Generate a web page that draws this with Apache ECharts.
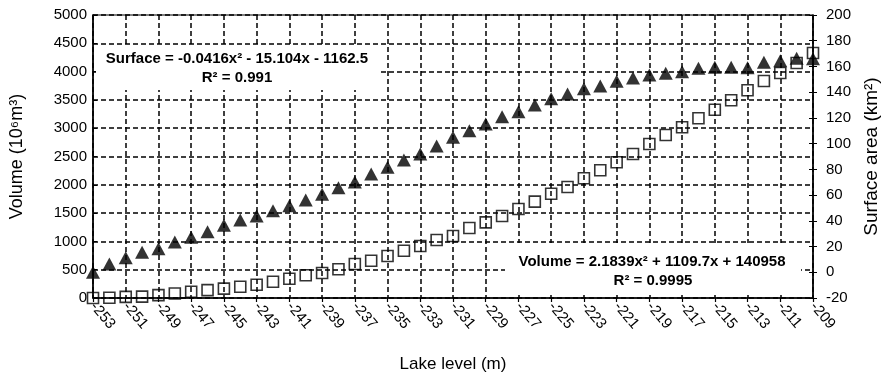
<!DOCTYPE html>
<html>
<head>
    <meta charset="UTF-8">
    <title>Lake level - volume - surface</title>
    <script src="https://cdn.jsdelivr.net/npm/echarts@6/dist/echarts.min.js"></script>
    <style>
        html, body { margin: 0; padding: 0; background: #fff; }
        #main { width: 894px; height: 379px; }
    </style>
</head>
<body>
<div id="main"></div>
<script type="text/javascript">
    // lake level (m), one point per metre
    var levels = [];
    for (var l = -253; l <= -209; l++) {
        levels.push(String(l));
    }
    // volume (10^6 m3), left axis
    var volume = [0, 5, 20, 25, 50, 80, 110, 140, 165, 200,
        235, 288, 341, 401, 442, 507, 601, 659, 742, 836,
        919, 1025, 1096, 1237, 1337, 1449, 1573, 1702, 1843, 1960,
        2115, 2256, 2398, 2545, 2721, 2880, 3016, 3175, 3327, 3493,
        3670, 3834, 3976, 4152, 4329];
    // surface area (km2), right axis
    var surface = [0, 6.4, 11.3, 15.5, 18.3, 23.5, 27.2, 31.5, 36.5, 40.6,
        43.7, 47.9, 51.8, 56.2, 60.6, 65.7, 70.2, 76.4, 81.6, 87.3,
        92, 98.2, 104.9, 110, 115.3, 120.9, 124.8, 130, 134.9, 138.6,
        142.7, 144.8, 148.5, 151, 153.4, 154.7, 155.9, 158.6, 159.4, 159.4,
        159, 163.2, 164.5, 166.3, 166];
    var surfaceFit = ['Surface = -0.0416x² - 15.104x - 1162.5', 'R² = 0.991'];
    var volumeFit = ['Volume = 2.1839x² + 1109.7x + 140958', 'R² = 0.9995'];

    var font = 'Liberation Sans, Arial, sans-serif';
    var dash = { color: '#000', width: 1.5, type: [5, 3] };
    var plain = function (v) { return String(v); };

    var myChart = echarts.init(document.getElementById('main'));
    var option = {
        animation: false,
        backgroundColor: '#fff',
        textStyle: { fontFamily: font, color: '#000' },
        grid: {
            left: 92, right: 81, top: 15, bottom: 81,
            show: true, borderColor: '#000', borderWidth: 1.2
        },
        xAxis: {
            type: 'category',
            data: levels,
            boundaryGap: false,
            name: 'Lake level (m)',
            nameLocation: 'middle',
            nameGap: 58,
            nameTextStyle: { fontSize: 17, color: '#000' },
            axisLine: { lineStyle: { color: '#000', width: 1.5 } },
            axisTick: { interval: 1, length: 4, lineStyle: { color: '#000', width: 1.2 } },
            axisLabel: { interval: 1, rotate: -50, margin: 6, fontSize: 15, color: '#000' },
            splitLine: { show: true, interval: 1, lineStyle: dash }
        },
        yAxis: [
            {
                type: 'value',
                min: 0, max: 5000, interval: 500,
                name: 'Volume (10⁶m³)',
                nameLocation: 'middle',
                nameRotate: 90,
                nameGap: 67,
                nameTextStyle: { fontSize: 18, color: '#000' },
                axisLine: { show: true, lineStyle: { color: '#000', width: 1.5 } },
                axisTick: { show: true, inside: true, length: 4, lineStyle: { color: '#000' } },
                axisLabel: { margin: 6, fontSize: 15, color: '#000', formatter: plain },
                splitLine: { show: true, lineStyle: dash }
            },
            {
                type: 'value',
                position: 'right',
                min: -20, max: 200, interval: 20,
                name: 'Surface area (km²)',
                nameLocation: 'middle',
                nameRotate: 90,
                nameGap: 49,
                nameTextStyle: { fontSize: 19, color: '#000' },
                axisLine: { show: true, lineStyle: { color: '#000', width: 1.5 } },
                axisTick: { show: true, length: 4, lineStyle: { color: '#000' } },
                axisLabel: { margin: 13, fontSize: 15, color: '#000', formatter: plain },
                splitLine: { show: false }
            },
            {
                // inner half of the crossing ticks on the right axis
                type: 'value',
                position: 'right',
                min: -20, max: 200, interval: 20,
                axisLine: { show: false },
                axisTick: { show: true, inside: true, length: 4, lineStyle: { color: '#000' } },
                axisLabel: { show: false },
                splitLine: { show: false }
            }
        ],
        series: [
            {
                name: 'Surface',
                type: 'scatter',
                yAxisIndex: 1,
                symbol: 'triangle',
                symbolSize: [14, 13],
                itemStyle: { color: '#000' },
                data: surface
            },
            {
                name: 'Volume',
                type: 'scatter',
                yAxisIndex: 0,
                symbol: 'rect',
                symbolSize: 11,
                itemStyle: { color: 'rgba(255,255,255,0)', borderColor: '#000', borderWidth: 1.6 },
                data: volume
            }
        ],
        graphic: [
            { type: 'rect', z: 100, shape: { x: 96, y: 47, width: 284, height: 43 }, style: { fill: '#fff' } },
            { type: 'text', z: 101, x: 237, y: 51, style: { text: surfaceFit[0], font: 'bold 15px ' + font, fill: '#000', align: 'center' } },
            { type: 'text', z: 101, x: 237, y: 70, style: { text: surfaceFit[1], font: 'bold 15px ' + font, fill: '#000', align: 'center' } },
            { type: 'rect', z: 100, shape: { x: 505, y: 243, width: 296, height: 49 }, style: { fill: '#fff' } },
            { type: 'text', z: 101, x: 652, y: 254, style: { text: volumeFit[0], font: 'bold 15px ' + font, fill: '#000', align: 'center' } },
            { type: 'text', z: 101, x: 653, y: 273, style: { text: volumeFit[1], font: 'bold 15px ' + font, fill: '#000', align: 'center' } }
        ]
    };
    myChart.setOption(option);
</script>
</body>
</html>
